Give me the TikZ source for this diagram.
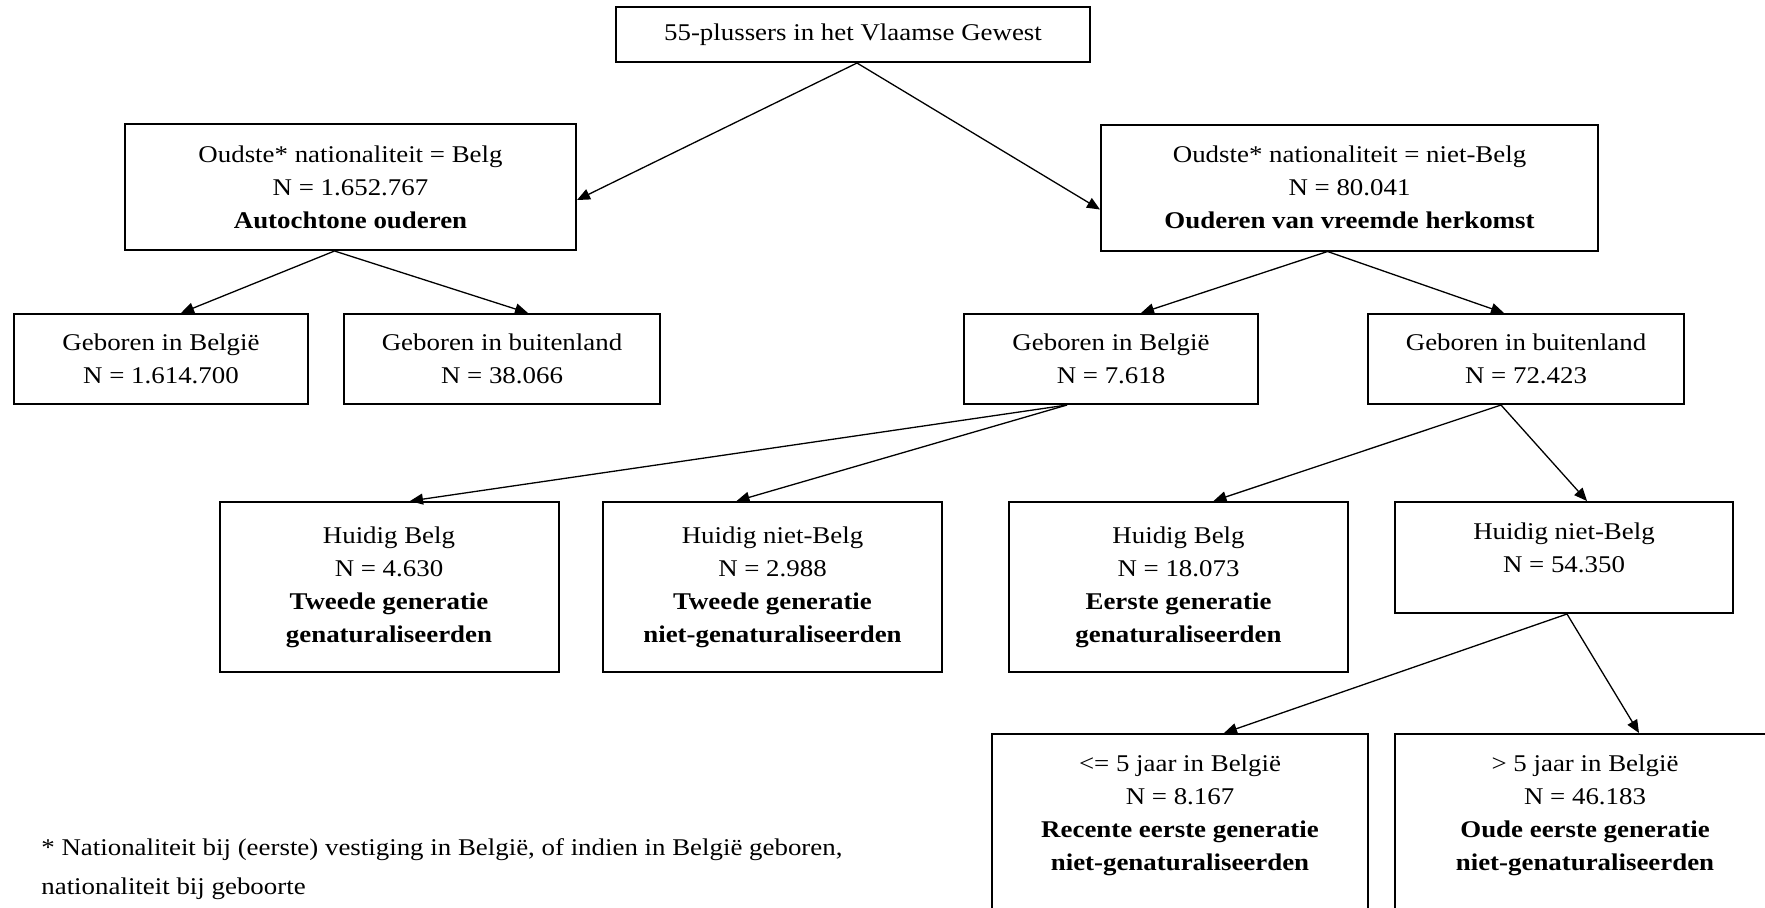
\documentclass[tikz,border=0pt]{standalone}
\usepackage{fontspec}
\setmainfont{Liberation Serif}[FakeStretch=1.12]
\usetikzlibrary{arrows.meta}

\begin{document}
\begin{tikzpicture}[x=0.5pt, y=-0.5pt,
      box/.style={rectangle, draw=black, line width=1pt, fill=white,
                  minimum width=147pt, minimum height=45pt,
                  align=center, inner sep=0pt, font=\fontsize{12}{16.5}\selectfont},
      arr/.style={-{Triangle[length=6.5pt, width=5.5pt]}, line width=0.65pt}]
      \useasboundingbox (0,0) rectangle (1765,907);
      \clip (0,0) rectangle (1765,907);
      % Row 1: all 55-plussers
      \node[box, minimum width=237pt, minimum height=27.5pt] (tot) at (853,34.5) {55-plussers in het Vlaamse Gewest};
      % Row 2: oldest nationality
      \node[box, minimum width=225.5pt, minimum height=63pt] (belg) at (350.5,187) {Oudste* nationaliteit = Belg\\N = 1.652.767\\\textbf{Autochtone ouderen}};
      \node[box, minimum width=248.5pt, minimum height=63pt] (vreemd) at (1349.5,187.5) {Oudste* nationaliteit = niet-Belg\\N = 80.041\\\textbf{Ouderen van vreemde herkomst}};
      % Row 3: place of birth
      \node[box] (belgBE) at (161,359) {Geboren in België\\N = 1.614.700};
      \node[box, minimum width=158pt] (belgBU) at (502,359) {Geboren in buitenland\\N = 38.066};
      \node[box] (vreemdBE) at (1111,359) {Geboren in België\\N = 7.618};
      \node[box, minimum width=158pt] (vreemdBU) at (1526,359) {Geboren in buitenland\\N = 72.423};
      % Row 4: current nationality
      \node[box, minimum width=169.5pt, minimum height=85pt] (tweedeNat) at (389,587) {Huidig Belg\\N = 4.630\\\textbf{Tweede generatie}\\\textbf{genaturaliseerden}};
      \node[box, minimum width=169.5pt, minimum height=85pt] (tweedeNiet) at (772.5,587) {Huidig niet-Belg\\N = 2.988\\\textbf{Tweede generatie}\\\textbf{niet-genaturaliseerden}};
      \node[box, minimum width=169.5pt, minimum height=85pt] (eersteNat) at (1178.5,587) {Huidig Belg\\N = 18.073\\\textbf{Eerste generatie}\\\textbf{genaturaliseerden}};
      \node[box, minimum width=169pt, minimum height=55.5pt] (eersteNiet) at (1564,557.5) {Huidig niet-Belg\\N = 54.350\\[-7pt]~};
      % Row 5: length of stay (boxes run past the page edge)
      \node[box, anchor=north, minimum width=188pt, minimum height=128pt] (recent) at (1180,733) {<= 5 jaar in België\\N = 8.167\\\textbf{Recente eerste generatie}\\\textbf{niet-genaturaliseerden}\\~\\~\\~};
      \node[box, anchor=north, minimum width=190pt, minimum height=128pt] (oud) at (1585,733) {> 5 jaar in België\\N = 46.183\\\textbf{Oude eerste generatie}\\\textbf{niet-genaturaliseerden}\\~\\~\\~};
      % Arrows
      \draw[arr] ([xshift=2pt]tot.south) -- ([yshift=-6.5pt]belg.east);
      \draw[arr] ([xshift=2pt]tot.south) -- ([yshift=-11pt]vreemd.west);
      \draw[arr] ([xshift=-8pt]belg.south) -- ([xshift=10pt]belgBE.north);
      \draw[arr] ([xshift=-8pt]belg.south) -- ([xshift=13pt]belgBU.north);
      \draw[arr] ([xshift=-11pt]vreemd.south) -- ([xshift=15pt]vreemdBE.north);
      \draw[arr] ([xshift=-11pt]vreemd.south) -- ([xshift=-11pt]vreemdBU.north);
      \draw[arr] ([xshift=-22pt]vreemdBE.south) -- ([xshift=10.5pt]tweedeNat.north);
      \draw[arr] ([xshift=-22pt]vreemdBE.south) -- ([xshift=-18pt]tweedeNiet.north);
      \draw[arr] ([xshift=-12.5pt]vreemdBU.south) -- ([xshift=17.5pt]eersteNat.north);
      \draw[arr] ([xshift=-12.5pt]vreemdBU.south) -- ([xshift=11.5pt]eersteNiet.north);
      \draw[arr] ([xshift=1.5pt]eersteNiet.south) -- ([xshift=22pt]recent.north);
      \draw[arr] ([xshift=1.5pt]eersteNiet.south) -- ([xshift=27pt]oud.north);
      % Footnote
      \node[anchor=north west, align=left, inner sep=0pt, font=\fontsize{12}{19.5}\selectfont] (voetnoot) at (41,838) {* Nationaliteit bij (eerste) vestiging in België, of indien in België geboren,\\nationaliteit bij geboorte};
\end{tikzpicture}
\end{document}
